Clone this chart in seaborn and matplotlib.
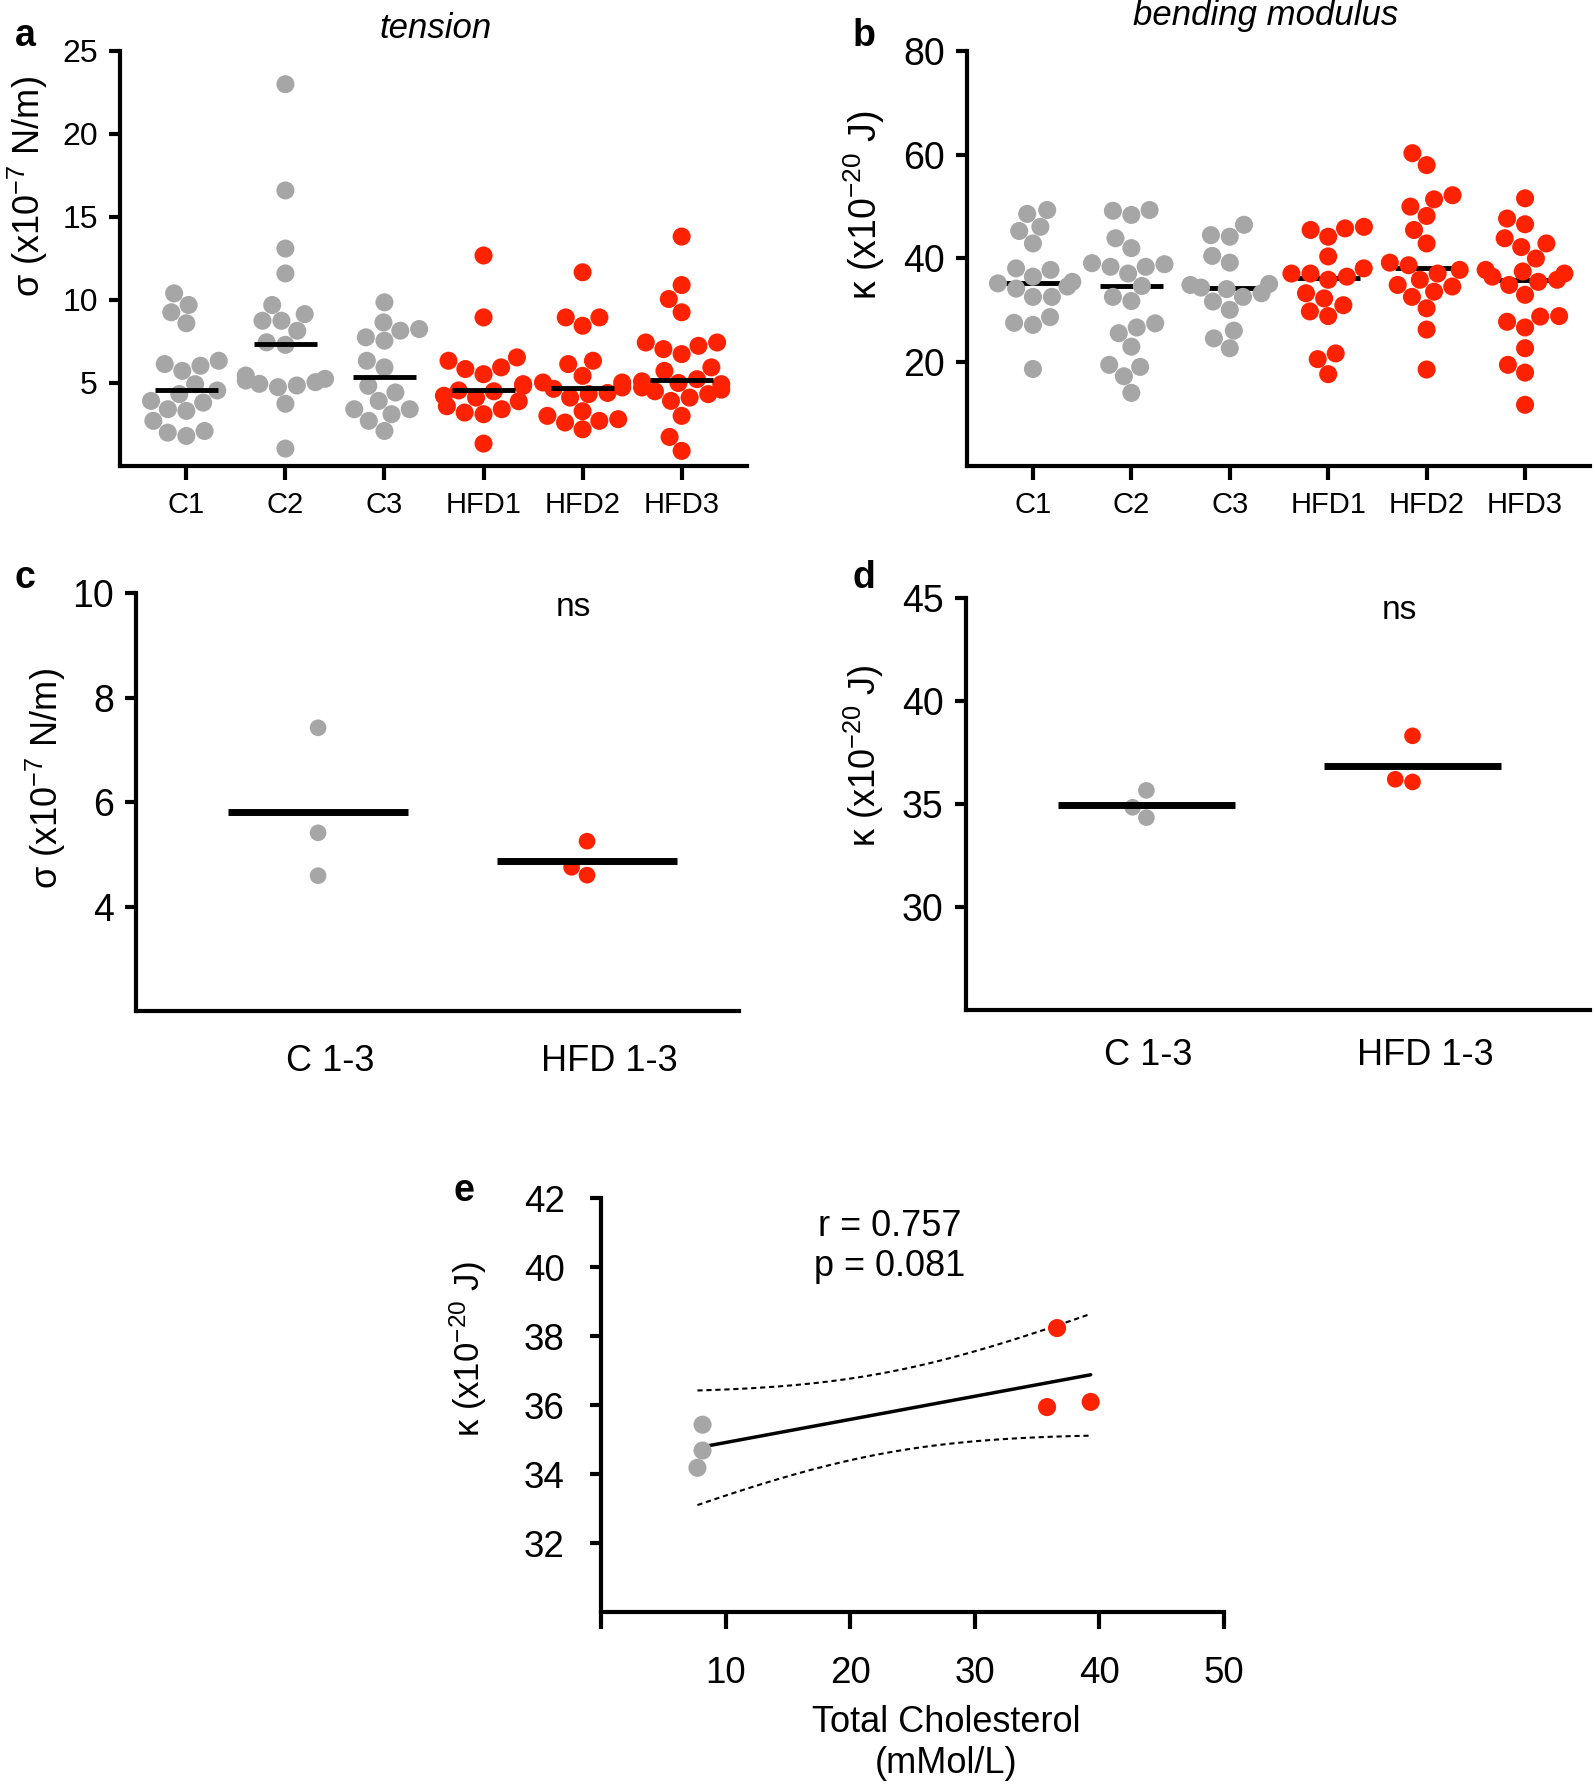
import numpy as np
import pandas as pd
import matplotlib.pyplot as plt
import matplotlib.transforms as mtransforms
import seaborn as sns

groups = ["C1", "C2", "C3", "HFD1", "HFD2", "HFD3"]

# membrane tension, x10^-7 N/m (panel a)
tension_c1 = [10.4, 9.7, 9.26, 8.6, 6.34, 6.14, 6.04, 5.73, 4.93, 4.55, 4.33, 3.92, 3.82, 3.42, 3.32, 2.72, 2.11, 2.01, 1.81]
tension_c2 = [23.0, 16.6, 13.1, 11.6, 9.7, 9.15, 8.75, 8.75, 8.15, 7.45, 7.3, 5.45, 5.25, 5.15, 5.05, 4.95, 4.85, 4.75, 3.75, 1.05]
tension_c3 = [9.86, 8.65, 8.25, 8.15, 7.75, 7.55, 6.34, 5.94, 4.83, 4.43, 3.92, 3.42, 3.42, 3.12, 2.72, 2.11]
tension_hfd1 = [12.68, 8.95, 6.54, 6.34, 5.94, 5.84, 5.53, 4.93, 4.83, 4.55, 4.5, 4.23, 4.12, 3.9, 3.6, 3.42, 3.22, 3.12, 1.35]
tension_hfd2 = [11.67, 8.95, 8.95, 8.45, 6.34, 6.14, 5.43, 5.03, 5.03, 4.73, 4.65, 4.4, 4.33, 4.12, 3.3, 3.02, 2.82, 2.72, 2.62, 2.21]
tension_hfd3 = [13.82, 10.9, 10.06, 9.26, 7.44, 7.44, 7.24, 7.04, 6.74, 5.94, 5.73, 5.23, 5.1, 5.0, 4.93, 4.73, 4.6, 4.5, 4.33, 4.12, 3.92, 3.02, 1.75, 0.91]

# bending modulus, x10^-20 J (panel b)
kappa_c1 = [49.35, 48.6, 46.1, 45.3, 42.9, 38.1, 37.8, 36.5, 35.5, 35.2, 34.6, 34.2, 32.6, 32.6, 28.7, 27.6, 27.2, 18.7]
kappa_c2 = [49.35, 49.2, 48.4, 43.9, 42.0, 39.1, 38.9, 38.4, 38.4, 37.1, 34.7, 32.6, 31.8, 27.5, 26.7, 25.6, 23.0, 19.5, 19.1, 17.3, 14.1]
kappa_c3 = [46.5, 44.5, 44.2, 40.5, 39.2, 35.1, 34.9, 34.4, 34.1, 33.3, 32.6, 31.7, 30.1, 26.1, 24.6, 22.7]
kappa_hfd1 = [46.1, 45.8, 45.5, 44.2, 40.4, 38.1, 37.1, 37.1, 36.5, 35.9, 33.3, 32.3, 31.0, 29.8, 28.9, 21.7, 20.6, 17.7]
kappa_hfd2 = [60.3, 58.0, 52.2, 51.4, 50.0, 48.2, 45.5, 42.9, 39.2, 38.7, 37.8, 37.1, 35.9, 34.9, 34.6, 33.6, 32.6, 30.4, 26.3, 18.6]
kappa_hfd3 = [51.6, 47.7, 46.6, 43.9, 42.9, 42.2, 40.0, 37.8, 37.5, 37.1, 36.5, 35.9, 35.5, 34.9, 33.0, 28.9, 28.8, 27.8, 26.7, 22.7, 19.5, 18.0, 11.8]

# pooled per-animal values (panels c, d)
pooled = ["C 1-3", "HFD 1-3"]
tension_pool_c = [4.59, 7.42, 5.41]
tension_pool_hfd = [4.6, 4.75, 5.25]
kappa_pool_c = [35.66, 34.84, 34.34]
kappa_pool_hfd = [36.07, 38.31, 36.2]

# panel e: kappa vs total cholesterol (mMol/L)
chol_c = [7.74, 8.15, 8.15]
chol_hfd = [35.8, 36.6, 39.3]
kappa_e_c = [34.18, 35.43, 34.68]
kappa_e_hfd = [35.94, 38.23, 36.09]

GRAY = "#a6a6a6"
RED = "#ff2200"
W, H = 1595, 1789

sns.set_style("ticks", {"axes.edgecolor": "black", "xtick.color": "black",
                        "ytick.color": "black", "text.color": "black"})
plt.rcParams["font.family"] = ["Liberation Sans", "DejaVu Sans"]
plt.rcParams["mathtext.default"] = "regular"

fig = plt.figure(figsize=(W / 100, H / 100), dpi=100)


def box(l, t, r, b):
    return [l / W, 1 - b / H, (r - l) / W, (b - t) / H]


def style(ax, size):
    sns.despine(ax=ax)
    for s in ["left", "bottom"]:
        ax.spines[s].set_linewidth(3)
    ax.tick_params(width=3, length=8, labelsize=size, pad=8, labelcolor="black")
    ax.set_xlabel("")
    ax.set_ylabel("")


def shift_labels(ax, offsets_px):
    for lab, dx in zip(ax.get_xticklabels(), offsets_px):
        lab.set_transform(lab.get_transform() +
                          mtransforms.ScaledTranslation(dx / 100, 0, fig.dpi_scale_trans))


def diet(g):
    return "HFD" if g.startswith("HFD") else "C"


def long_df(names, lists):
    rows = [(n, diet(n), v) for n, vals in zip(names, lists) for v in vals]
    return pd.DataFrame(rows, columns=["group", "diet", "value"])


pal = {"C": GRAY, "HFD": RED}

# ---- a: tension per mouse
ax_a = fig.add_axes(box(120, 51, 747, 466))
t_lists = [tension_c1, tension_c2, tension_c3, tension_hfd1, tension_hfd2, tension_hfd3]
df_a = long_df(groups, t_lists)
sns.swarmplot(data=df_a, x="group", y="value", hue="diet", palette=pal, size=13,
              linewidth=0, legend=False, warn_thresh=1, ax=ax_a)
for i, vals in enumerate(t_lists):
    ax_a.hlines(np.median(vals), i - 0.32, i + 0.32, color="black", lw=3.5, zorder=5)
ax_a.set_xlim(-0.67, 5.66)
ax_a.set_ylim(0, 25)
ax_a.set_yticks([5, 10, 15, 20, 25])
style(ax_a, 23)
ax_a.tick_params(axis="x", labelsize=21, length=10)

# ---- b: bending modulus per mouse
ax_b = fig.add_axes(box(967, 51, 1590, 466))
k_lists = [kappa_c1, kappa_c2, kappa_c3, kappa_hfd1, kappa_hfd2, kappa_hfd3]
df_b = long_df(groups, k_lists)
sns.swarmplot(data=df_b, x="group", y="value", hue="diet", palette=pal, size=13,
              linewidth=0, legend=False, warn_thresh=1, ax=ax_b, zorder=3)
for i, vals in enumerate(k_lists):
    ax_b.hlines(np.median(vals), i - 0.32, i + 0.32, color="black", lw=3.5, zorder=2)
ax_b.set_xlim(-0.67, 5.66)
ax_b.set_ylim(0, 80)
ax_b.set_yticks([20, 40, 60, 80])
style(ax_b, 27)
ax_b.tick_params(axis="x", labelsize=21, length=10)

# ---- c: pooled tension
ax_c = fig.add_axes(box(136, 593, 739, 1011))
df_c = long_df(["C", "HFD"], [tension_pool_c, tension_pool_hfd])
df_c["group"] = df_c["group"].map({"C": pooled[0], "HFD": pooled[1]})
sns.swarmplot(data=df_c, x="group", y="value", hue="diet", palette=pal, size=12,
              linewidth=0, legend=False, ax=ax_c)
for i, vals in enumerate([tension_pool_c, tension_pool_hfd]):
    ax_c.hlines(np.mean(vals), i - 0.335, i + 0.335, color="black", lw=5, zorder=5)
ax_c.set_xlim(-0.677, 1.565)
ax_c.set_ylim(2, 10)
ax_c.set_yticks([4, 6, 8, 10])
style(ax_c, 27)
ax_c.tick_params(axis="x", labelsize=26, length=0, pad=24)
shift_labels(ax_c, [12, 22])
ax_c.text(0.95, 9.73, "ns", ha="center", va="center", fontsize=24)

# ---- d: pooled bending modulus
ax_d = fig.add_axes(box(966, 598, 1590, 1010))
df_d = long_df(["C", "HFD"], [kappa_pool_c, kappa_pool_hfd])
df_d["group"] = df_d["group"].map({"C": pooled[0], "HFD": pooled[1]})
sns.swarmplot(data=df_d, x="group", y="value", hue="diet", palette=pal, size=12,
              linewidth=0, legend=False, ax=ax_d)
for i, vals in enumerate([kappa_pool_c, kappa_pool_hfd]):
    ax_d.hlines(np.mean(vals), i - 0.333, i + 0.333, color="black", lw=5, zorder=5)
ax_d.set_xlim(-0.678, 1.667)
ax_d.set_ylim(25, 45)
ax_d.set_yticks([30, 35, 40, 45])
style(ax_d, 27)
ax_d.tick_params(axis="x", labelsize=26, length=0, pad=20)
shift_labels(ax_d, [2, 13])
ax_d.text(0.95, 44.4, "ns", ha="center", va="center", fontsize=24)

# ---- e: correlation with cholesterol
ax_e = fig.add_axes(box(601, 1198, 1224, 1612))
x = np.array(chol_c + chol_hfd)
y = np.array(kappa_e_c + kappa_e_hfd)
df_e = pd.DataFrame({"chol": x, "kappa": y, "diet": ["C"] * 3 + ["HFD"] * 3})
sns.scatterplot(data=df_e, x="chol", y="kappa", hue="diet", palette=pal, s=170,
                linewidth=0, legend=False, ax=ax_e, zorder=3)
slope, icpt = np.polyfit(x, y, 1)
n = len(x)
resid = y - (slope * x + icpt)
s_err = np.sqrt(np.sum(resid ** 2) / (n - 2))
sxx = np.sum((x - x.mean()) ** 2)
xs = np.linspace(x.min(), x.max(), 100)
fit = slope * xs + icpt
half = 2.776 * s_err * np.sqrt(1 / n + (xs - x.mean()) ** 2 / sxx)  # t(0.975, df=4)
ax_e.plot(xs, fit, color="black", lw=2.5, zorder=2)
ax_e.plot(xs, fit + half, color="black", lw=1.5, ls=(0, (2.5, 1.8)), zorder=2)
ax_e.plot(xs, fit - half, color="black", lw=1.5, ls=(0, (2.5, 1.8)), zorder=2)
ax_e.set_xlim(0, 50)
ax_e.set_ylim(30, 42)
ax_e.set_xticks([0, 10, 20, 30, 40, 50])
ax_e.set_xticklabels(["", "10", "20", "30", "40", "50"])
ax_e.set_yticks([32, 34, 36, 38, 40, 42])
style(ax_e, 26.5)
ax_e.tick_params(axis="x", length=12, pad=20)
ax_e.tick_params(axis="y", pad=18)
ax_e.text(23.2, 40.6, "r = 0.757\np = 0.081", ha="center", va="center",
          fontsize=26, linespacing=1.2)

# ---- figure text
def ftext(px, py, s, **kw):
    fig.text(px / W, 1 - py / H, s, ha="center", va="center", **kw)


ftext(25, 36, "a", fontsize=27, fontweight="bold")
ftext(864, 36, "b", fontsize=27, fontweight="bold")
ftext(25, 578, "c", fontsize=27, fontweight="bold")
ftext(864, 578, "d", fontsize=27, fontweight="bold")
ftext(464, 1191, "e", fontsize=27, fontweight="bold")
ftext(436, 28, "tension", fontsize=25, style="italic")
ftext(1266, 16, "bending modulus", fontsize=25, style="italic")

sig = "σ (x10$^{-7}$ N/m)"
kap = "κ (x10$^{-20}$ J)"
ftext(28, 187, sig, fontsize=26, rotation=90)
ftext(864, 205, kap, fontsize=27, rotation=90)
ftext(46, 779, sig, fontsize=26, rotation=90)
ftext(864, 756, kap, fontsize=26, rotation=90)
ftext(468, 1349, kap, fontsize=25, rotation=90)
ftext(946, 1743, "Total Cholesterol\n(mMol/L)", fontsize=26, linespacing=1.25)

fig.savefig("out.png", dpi=100)
